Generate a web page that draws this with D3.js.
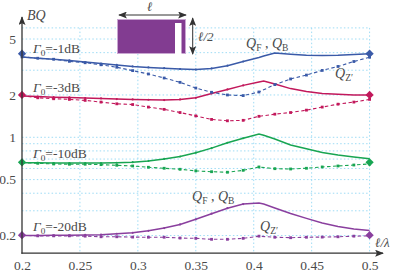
<!DOCTYPE html>
<html>
<head>
<meta charset="utf-8">
<script src="https://cdn.jsdelivr.net/npm/d3@7"></script>
<style>
    html, body { margin: 0; padding: 0; background: #fff; }
    svg { display: block; }
    svg text { font-family: "Liberation Serif", serif; fill: #4a4a4a; }
    .it { font-style: italic; }
</style>
</head>
<body>
<script>
// l/lambda samples of the dashed curves
let xZ = [0.2, 0.2136, 0.2273, 0.2409, 0.2545, 0.2682, 0.2818, 0.2955, 0.3091, 0.3227, 0.3364, 0.35,
    0.3636, 0.3773, 0.3909, 0.4045, 0.4182, 0.4318, 0.4455, 0.4591, 0.4727, 0.4864, 0.5];
// same, plus one more sample near the kink of the solid curves
let xF = [0.2, 0.2136, 0.2273, 0.2409, 0.2545, 0.2682, 0.2818, 0.2955, 0.3091, 0.3227, 0.3364, 0.35,
    0.3636, 0.3773, 0.3909, 0.4045, 0.4086, 0.4182, 0.4318, 0.4455, 0.4591, 0.4727, 0.4864, 0.5];

// solid curves, QF and QB
let blueF = [3.73, 3.65, 3.59, 3.52, 3.43, 3.35, 3.27, 3.19, 3.14, 3.10, 3.06, 3.03,
    3.09, 3.23, 3.46, 3.70, 3.79, 3.98, 3.90, 3.84, 3.81, 3.83, 3.88, 3.93];
let redF = [1.97, 1.95, 1.93, 1.92, 1.90, 1.89, 1.87, 1.86, 1.85, 1.84, 1.86, 1.91,
    2.05, 2.19, 2.34, 2.47, 2.51, 2.39, 2.22, 2.12, 2.05, 2.02, 2.00, 2.00];
let greenF = [0.660, 0.658, 0.656, 0.656, 0.656, 0.656, 0.659, 0.665, 0.678, 0.701, 0.730, 0.777,
    0.837, 0.914, 0.984, 1.056, 1.033, 0.972, 0.882, 0.828, 0.780, 0.748, 0.724, 0.704];
let purpleF = [0.200, 0.200, 0.201, 0.201, 0.202, 0.203, 0.206, 0.209, 0.216, 0.226, 0.240, 0.261,
    0.286, 0.313, 0.335, 0.341, 0.335, 0.314, 0.287, 0.265, 0.246, 0.232, 0.223, 0.217];

// dashed curves, QZ'
let blueZ = [3.73, 3.65, 3.59, 3.47, 3.39, 3.28, 3.15, 2.98, 2.82, 2.64, 2.46, 2.24,
    2.09, 2.00, 1.98, 2.10, 2.37, 2.60, 2.77, 2.99, 3.19, 3.46, 3.71];
let redZ = [1.98, 1.91, 1.88, 1.86, 1.83, 1.78, 1.73, 1.71, 1.64, 1.58, 1.50, 1.42,
    1.34, 1.31, 1.32, 1.41, 1.46, 1.50, 1.56, 1.64, 1.72, 1.78, 1.86];
let greenZ = [0.660, 0.653, 0.646, 0.643, 0.643, 0.639, 0.632, 0.625, 0.612, 0.602, 0.592, 0.577,
    0.569, 0.564, 0.582, 0.615, 0.598, 0.595, 0.602, 0.615, 0.625, 0.635, 0.646];
let purpleZ = [0.201, 0.199, 0.199, 0.199, 0.198, 0.196, 0.196, 0.195, 0.1945, 0.1945, 0.192, 0.191,
    0.188, 0.188, 0.191, 0.198, 0.1945, 0.193, 0.1945, 0.195, 0.196, 0.198, 0.199];

// diamonds at both ends of each group
let endValues = [3.93, 2.0, 0.664, 0.201];
let endLimits = [0.2, 0.5];
let groupNames = ["-1dB", "-3dB", "-10dB", "-20dB"];

let xTicks = [0.2, 0.25, 0.3, 0.35, 0.4, 0.45, 0.5];
let yTicks = [5, 2, 1, 0.5, 0.2];
let yGrid = [6, 5, 4, 3, 2, 1, 0.9, 0.8, 0.7, 0.6, 0.5, 0.4, 0.3, 0.2];

let svgWidth = 393;
let svgHeight = 273;
let colors = ["#3a5aa8", "#c2185b", "#18a552", "#8a3f9e"];
let solids = [blueF, redF, greenF, purpleF];
let dashes = [blueZ, redZ, greenZ, purpleZ];
let inkColor = "#333";

let svg = d3.select("body")
    .append("svg")
    .attr("width", svgWidth)
    .attr("height", svgHeight);

let xScale = d3.scaleLinear().domain([0.2, 0.5]).range([22, 369.6]);
let yScale = d3.scaleLog().domain([0.15, 6]).range([253.1, 27.9]);

// Arrow heads
let defs = svg.append("defs");
defs.append("marker")
    .attr("id", "arrow")
    .attr("viewBox", "0 0 10 8")
    .attr("refX", 9)
    .attr("refY", 4)
    .attr("markerUnits", "userSpaceOnUse")
    .attr("markerWidth", 9)
    .attr("markerHeight", 7)
    .attr("orient", "auto-start-reverse")
    .append("path")
    .attr("d", "M0,0 L10,4 L0,8 L2,4 Z")
    .attr("fill", inkColor);

// Grid
let grid = svg.append("g")
    .attr("fill", "none")
    .attr("stroke", "#9fdcf5")
    .attr("stroke-width", 1)
    .attr("stroke-dasharray", "1.5 2.2");
grid.selectAll(".h")
    .data(yGrid)
    .enter()
    .append("line")
    .attr("x1", xScale(0.2))
    .attr("x2", xScale(0.5))
    .attr("y1", d => yScale(d))
    .attr("y2", d => yScale(d));
grid.selectAll(".v")
    .data(xTicks.slice(1))
    .enter()
    .append("line")
    .attr("x1", d => xScale(d))
    .attr("x2", d => xScale(d))
    .attr("y1", yScale(6))
    .attr("y2", yScale(0.15));

// Inset sketch of the slotted patch
let inset = svg.append("g");
inset.append("rect")
    .attr("x", 117.5)
    .attr("y", 19.5)
    .attr("width", 68)
    .attr("height", 34)
    .attr("fill", "#823c91")
    .attr("stroke", "#c9a6d2")
    .attr("stroke-width", 1);
inset.append("rect")
    .attr("x", 175)
    .attr("y", 23)
    .attr("width", 6.5)
    .attr("height", 31)
    .attr("fill", "#fff");
inset.append("line")
    .attr("x1", 119).attr("x2", 186)
    .attr("y1", 15).attr("y2", 15)
    .attr("stroke", inkColor).attr("stroke-width", 1)
    .attr("marker-start", "url(#arrow)")
    .attr("marker-end", "url(#arrow)");
inset.append("line")
    .attr("x1", 192.7).attr("x2", 192.7)
    .attr("y1", 18).attr("y2", 54)
    .attr("stroke", inkColor).attr("stroke-width", 1)
    .attr("marker-start", "url(#arrow)")
    .attr("marker-end", "url(#arrow)");

// Curves
let line = d3.line()
    .x(d => xScale(d[0]))
    .y(d => yScale(d[1]));

solids.forEach(function(values, i) {
    let points = values.map((v, j) => [xF[j], v]);
    svg.append("path")
        .attr("d", line(points))
        .attr("fill", "none")
        .attr("stroke", colors[i])
        .attr("stroke-width", 1.5);
    svg.append("g")
        .selectAll("circle")
        .data(points.filter(d => d[0] < 0.4))
        .enter()
        .append("circle")
        .attr("cx", d => xScale(d[0]))
        .attr("cy", d => yScale(d[1]))
        .attr("r", 1.1)
        .attr("fill", colors[i]);
});

dashes.forEach(function(values, i) {
    let points = values.map((v, j) => [xZ[j], v]);
    svg.append("path")
        .attr("d", line(points))
        .attr("fill", "none")
        .attr("stroke", colors[i])
        .attr("stroke-width", 1.1)
        .attr("stroke-dasharray", "3.5 2.5");
    svg.append("g")
        .selectAll("rect")
        .data(points)
        .enter()
        .append("rect")
        .attr("x", d => xScale(d[0]) - 1.4)
        .attr("y", d => yScale(d[1]) - 1.4)
        .attr("width", 2.8)
        .attr("height", 2.8)
        .attr("fill", colors[i]);
});

// End diamonds
let diamond = d3.symbol().type(d3.symbolSquare).size(34);
endValues.forEach(function(v, i) {
    svg.append("g")
        .selectAll("path")
        .data(endLimits)
        .enter()
        .append("path")
        .attr("d", diamond)
        .attr("transform", d => `translate(${xScale(d)}, ${yScale(v)}) rotate(45)`)
        .attr("fill", colors[i]);
});

// Axes
let xAxis = d3.axisBottom(xScale).tickValues(xTicks).tickSize(0).tickPadding(7)
    .tickFormat(d => String(d));
let yAxis = d3.axisLeft(yScale).tickValues(yTicks).tickSize(0).tickPadding(6)
    .tickFormat(d => String(d));

let xGroup = svg.append("g")
    .attr("transform", "translate(0, 253.2)")
    .call(xAxis);
let yGroup = svg.append("g")
    .attr("transform", "translate(22, 0)")
    .call(yAxis);
xGroup.select(".domain").remove();
yGroup.select(".domain").remove();
xGroup.attr("font-family", null).attr("font-size", null);
yGroup.attr("font-family", null).attr("font-size", null);
svg.selectAll(".tick text")
    .attr("font-size", 13.5)
    .attr("fill", "#4a4a4a");

svg.append("line")
    .attr("x1", 22).attr("x2", 22)
    .attr("y1", 253.8).attr("y2", 17)
    .attr("stroke", inkColor).attr("stroke-width", 1.3)
    .attr("marker-end", "url(#arrow)");
svg.append("line")
    .attr("x1", 21.4).attr("x2", 383)
    .attr("y1", 253.2).attr("y2", 253.2)
    .attr("stroke", inkColor).attr("stroke-width", 1.3)
    .attr("marker-end", "url(#arrow)");

// Labels
function addLabel(x, y, parts, size) {
    let t = svg.append("text")
        .attr("x", x)
        .attr("y", y)
        .attr("font-size", size);
    parts.forEach(function(p) {
        let s = t.append("tspan").text(p.text);
        if (p.it) s.attr("class", "it");
        if (p.sub) s.attr("font-size", size * 0.68).attr("dy", 2.5);
        if (p.back) s.attr("dy", -2.5);
    });
}

let labelBase = [53, 92, 158, 231];
groupNames.forEach(function(name, i) {
    addLabel(33, labelBase[i], [
        {text: "Γ", it: true},
        {text: "0", sub: true},
        {text: "=" + name, back: true}
    ], 13.5);
});

addLabel(27, 20, [{text: "BQ", it: true}], 14);
addLabel(375, 247, [{text: "ℓ/λ", it: true}], 13);
addLabel(147, 11, [{text: "ℓ", it: true}], 13);
addLabel(198, 41, [{text: "ℓ/2", it: true}], 13);

function addQF(x, y) {
    addLabel(x, y, [
        {text: "Q", it: true},
        {text: "F", sub: true},
        {text: " , ", back: true},
        {text: "Q", it: true},
        {text: "B", sub: true}
    ], 14);
}
addQF(246, 48);
addQF(192, 201);

function addQZ(x, y) {
    addLabel(x, y, [
        {text: "Q", it: true},
        {text: "Z′", sub: true}
    ], 14);
}
addQZ(335, 78);
addQZ(260, 231);
</script>
</body>
</html>
